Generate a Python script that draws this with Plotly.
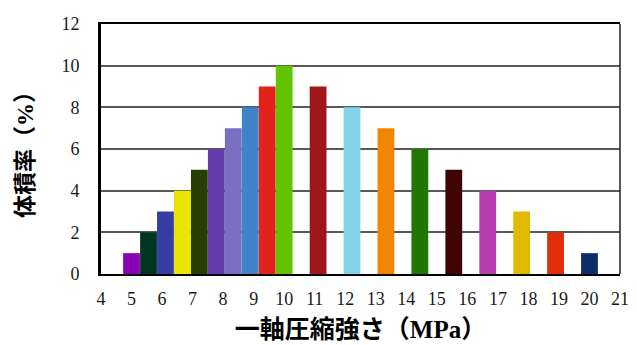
import plotly.graph_objects as go

x_pos = [5, 5.556, 6.111, 6.667, 7.222, 7.778, 8.333, 8.889, 9.444, 10,
         11.111, 12.222, 13.333, 14.444, 15.556, 16.667, 17.778, 18.889, 20]
values = [1, 2, 3, 4, 5, 6, 7, 8, 9, 10, 9, 8, 7, 6, 5, 4, 3, 2, 1]
colors = ["#8a00b4", "#003520", "#363ea3", "#ebe300", "#263f02", "#613caa",
          "#7a6fc2", "#3f84c7", "#e32219", "#62c401", "#a11719", "#80d6e8",
          "#f18600", "#1f7801", "#400405", "#b93bb0", "#e0ba00", "#e02e0a",
          "#0c2d6a"]
x_ticks = list(range(4, 22))
y_ticks = list(range(0, 13, 2))

fig = go.Figure(go.Bar(x=x_pos, y=values, marker_color=colors,
                       marker_line_width=0, width=0.55))

cjk = "Noto Sans CJK JP"
serif = "Liberation Serif"

fig.update_layout(
    width=637, height=345,
    margin=dict(l=101, r=8, t=24, b=71),
    paper_bgcolor="white", plot_bgcolor="white",
    showlegend=False,
    xaxis=dict(range=[4, 21], tickvals=x_ticks, ticktext=[str(v) for v in x_ticks],
               showgrid=False, zeroline=False, showline=True, linecolor="black",
               linewidth=2, mirror=True, ticks="", ticklabelstandoff=7,
               ticklabeloverflow="allow",
               tickfont=dict(family=serif, size=18, color="#1a1a1a"),
               title=dict(text="<b>一軸圧縮強さ（<span style=\"font-family:Liberation Serif\">MPa</span>）</b>",
                          font=dict(family=cjk, size=25, color="black", weight="bold"), standoff=6)),
    yaxis=dict(range=[0, 12], tickvals=y_ticks, showgrid=True, gridcolor="#595959",
               gridwidth=2, zeroline=False, showline=True, linecolor="black",
               linewidth=3, ticks="", ticklabelstandoff=15,
               tickfont=dict(family=serif, size=18, color="#1a1a1a"),
               title=dict(text="<b>体積率（<span style=\"font-family:Liberation Serif\">%</span>）</b>",
                          font=dict(family=cjk, size=23, color="black", weight="bold"), standoff=22)),
    shapes=[dict(type="line", xref="paper", yref="paper", x0=1, x1=1, y0=0, y1=1,
                 line=dict(color="#222", width=1.5))],
)

fig.write_html("out.html")
